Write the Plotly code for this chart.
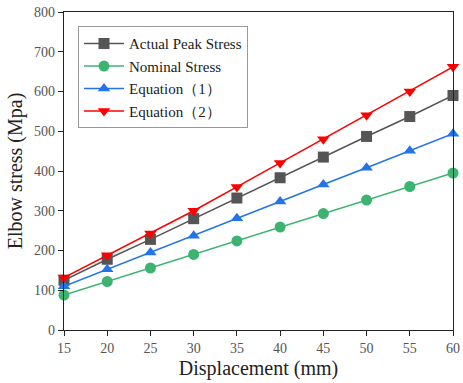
import plotly.graph_objects as go

displacement = [15, 20, 25, 30, 35, 40, 45, 50, 55, 60]
actual_peak = [125, 178, 228, 280, 332, 383, 435, 487, 537, 590]
nominal = [88, 122, 156, 190, 224, 259, 293, 327, 361, 395]
equation1 = [110, 153, 195, 237, 281, 323, 366, 408, 451, 494]
equation2 = [132, 188, 243, 300, 360, 420, 480, 540, 600, 662]

x_ticks = [15, 20, 25, 30, 35, 40, 45, 50, 55, 60]
y_ticks = [0, 100, 200, 300, 400, 500, 600, 700, 800]

series = [
    ("Actual Peak Stress", actual_peak, "#555555", "square"),
    ("Nominal Stress", nominal, "#3CB371", "circle"),
    ("Equation（1）", equation1, "#2374E6", "triangle-up"),
    ("Equation（2）", equation2, "#FF0000", "triangle-down"),
]

fig = go.Figure()
for name, ys, color, sym in series:
    fig.add_trace(go.Scatter(
        x=displacement, y=ys, name=name, mode="lines+markers",
        line=dict(color=color, width=1.6),
        marker=dict(symbol=sym, size=11, color=color),
        cliponaxis=False,
    ))

font_family = "Liberation Serif, Times New Roman, serif"
fig.update_layout(
    width=463, height=383,
    margin=dict(l=64, r=10, t=12, b=53, autoexpand=False),
    paper_bgcolor="white", plot_bgcolor="white",
    font=dict(family=font_family, color="#222222"),
    legend=dict(
        x=0.036, y=0.955, xanchor="left", yanchor="top",
        bordercolor="#999999", borderwidth=1, bgcolor="white",
        font=dict(size=15, family=font_family, color="#222222"),
        tracegroupgap=0, itemwidth=40,
    ),
    xaxis=dict(
        range=[15, 60], tickvals=x_ticks, ticks="outside", ticklen=5,
        tickcolor="#222", showline=True, linecolor="#222", linewidth=1.2,
        mirror=True, showgrid=False, zeroline=False, automargin=False,
        ticklabeloverflow="allow",
        tickfont=dict(size=14, color="#555555"),
        title=dict(text="Displacement (mm)", font=dict(size=20, color="#222222"), standoff=6),
    ),
    yaxis=dict(
        range=[0, 800], tickvals=y_ticks, ticks="outside", ticklen=5,
        tickcolor="#222", showline=True, linecolor="#222", linewidth=1.2,
        mirror=True, showgrid=False, zeroline=False, automargin=False,
        ticklabeloverflow="allow",
        tickfont=dict(size=14, color="#555555"),
        title=dict(text="Elbow stress (Mpa)", font=dict(size=20, color="#222222"), standoff=6),
    ),
)

fig.write_html(
    "out.html",
    config={"displayModeBar": False},
    post_script="document.body.style.margin='0';document.body.style.overflow='hidden';",
)
